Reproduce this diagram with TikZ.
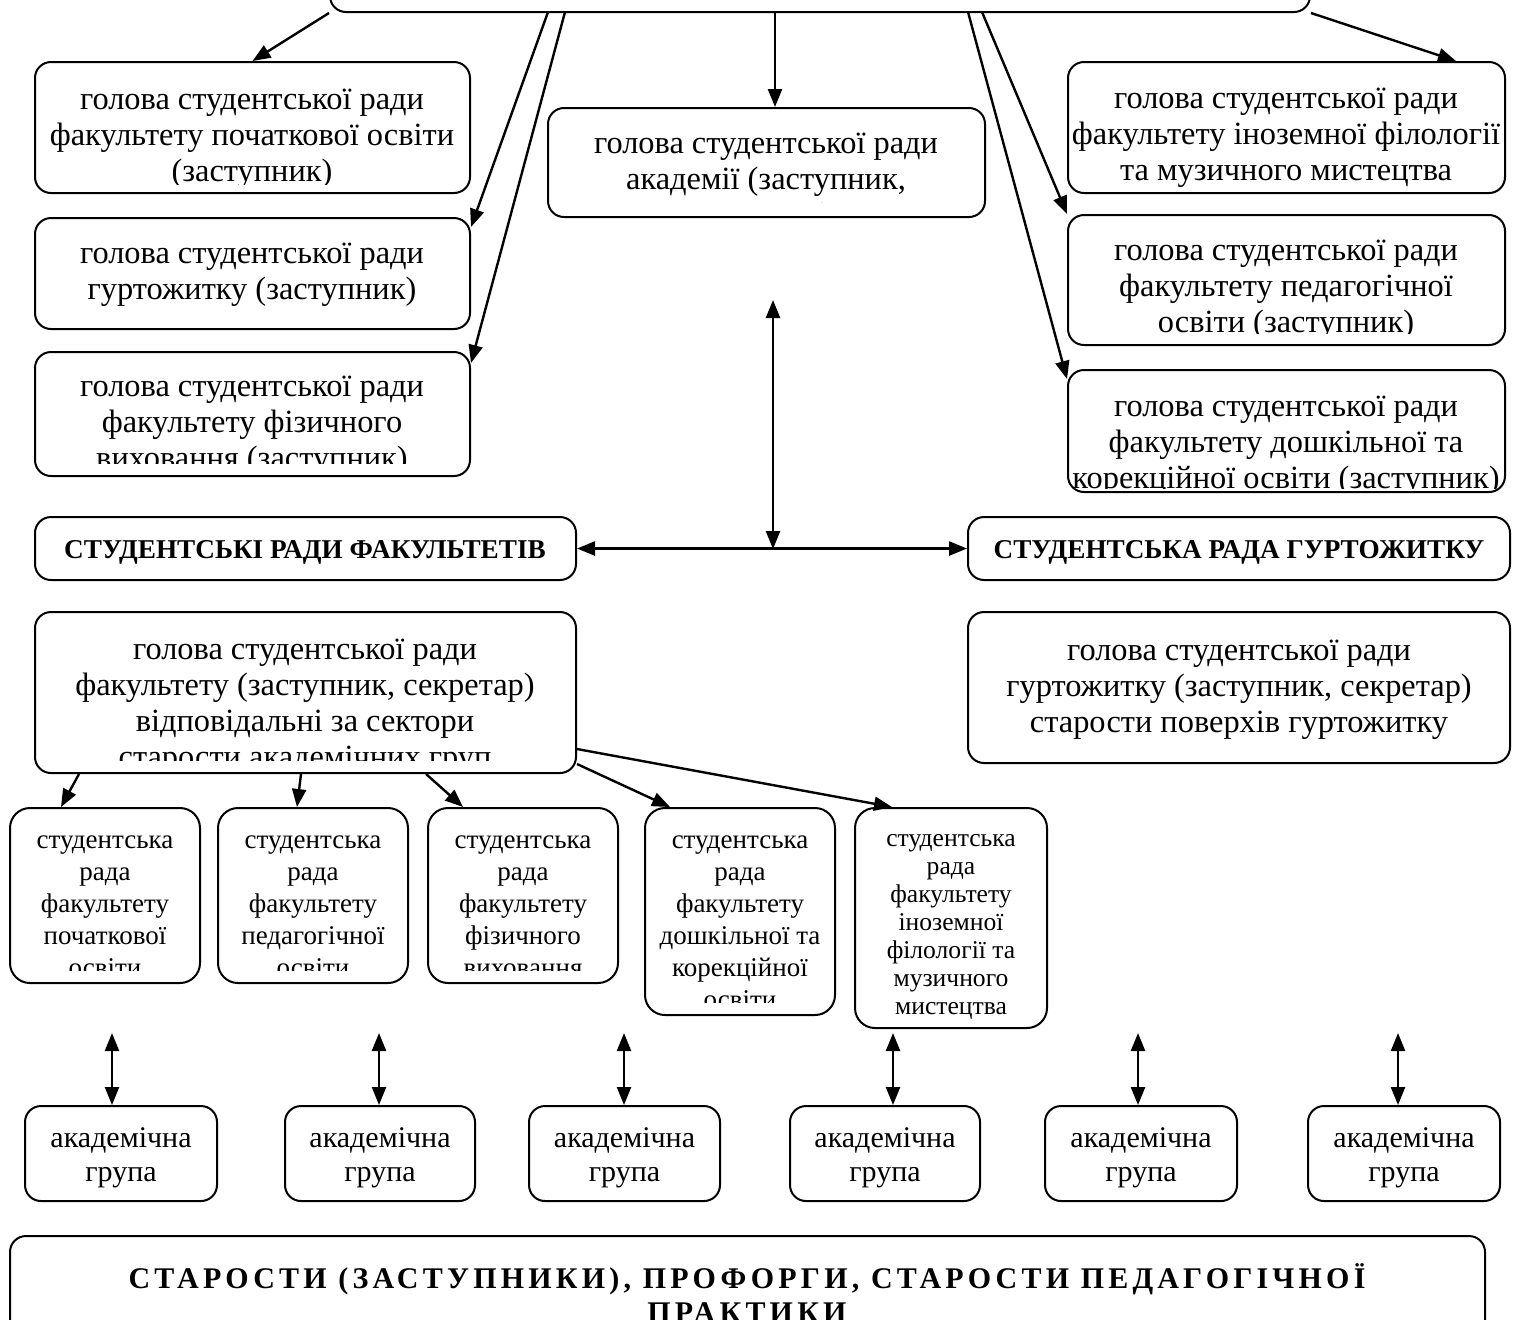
\documentclass[tikz,border=0pt]{standalone}
\usepackage{fontspec}
\setmainfont{Liberation Serif}
\usetikzlibrary{arrows.meta,fit}

\tikzset{
  box/.style={draw, line width=1pt, rounded corners=8pt, inner sep=0pt},
  txt/.style={align=center, inner sep=0pt, font=\fontsize{16.2}{18}\selectfont},
  smalltxt/.style={align=center, inner sep=0pt, font=\fontsize{13.5}{16}\selectfont},
  tinytxt/.style={align=center, inner sep=0pt, font=\fontsize{12.8}{14}\selectfont},
  grptxt/.style={align=center, inner sep=0pt, font=\fontsize{15}{17}\selectfont},
  head/.style={inner sep=0pt, font=\bfseries\fontsize{13.6}{15}\selectfont},
  arr/.style={line width=1.2pt, -{Triangle[length=9pt,width=7pt]}},
  darr/.style={line width=1.2pt, {Triangle[length=9pt,width=7pt]}-{Triangle[length=9pt,width=7pt]}},
}

\begin{document}
\begin{tikzpicture}[x=0.5pt, y=-0.5pt]

    \clip (0,0) rectangle (1518,1319);

    % top
    \node[box, fit={(330,-40) (1310,12)}] (T) {};

    % left column
    \node[box, fit={(35,62) (470,193)}] (L1) {};
    \begin{scope}
        \clip (35,62) rectangle (470,184);
        \node[txt] (L1t) at (252,139) {голова студентської ради\\факультету початкової освіти\\(заступник)};
    \end{scope}
    \node[box, fit={(35,218) (470,329)}] (L2) {};
    \node[txt] (L2t) at (252,275) {голова студентської ради\\гуртожитку (заступник)};
    \node[box, fit={(35,352) (470,476)}] (L3) {};
    \begin{scope}
        \clip (35,352) rectangle (470,463);
        \node[txt] (L3t) at (252,426) {голова студентської ради\\факультету фізичного\\виховання (заступник)};
    \end{scope}

    % centre
    \node[box, fit={(548,108) (985,217)}] (C) {};
    \begin{scope}
        \clip (548,108) rectangle (985,202);
        \node[txt] (Ct) at (766,183) {голова студентської ради\\академії (заступник,\\секретар)};
    \end{scope}

    % right column
    \node[box, fit={(1068,62) (1505,193)}] (R1) {};
    \node[txt] (R1t) at (1286,138) {голова студентської ради\\факультету іноземної філології\\та музичного мистецтва};
    \node[box, fit={(1068,215) (1505,345)}] (R2) {};
    \begin{scope}
        \clip (1068,215) rectangle (1505,333);
        \node[txt] (R2t) at (1286,290) {голова студентської ради\\факультету педагогічної\\освіти (заступник)};
    \end{scope}
    \node[box, fit={(1068,370) (1505,492)}] (R3) {};
    \begin{scope}
        \clip (1068,370) rectangle (1505,488);
        \node[txt] (R3t) at (1286,446) {голова студентської ради\\факультету дошкільної та\\корекційної освіти (заступник)};
    \end{scope}

    % councils
    \node[box, fit={(35,517) (576,580)}] (SRF) {};
    \node[head] (SRFt) at (305,552) {СТУДЕНТСЬКІ РАДИ ФАКУЛЬТЕТІВ};
    \node[box, fit={(968,517) (1510,580)}] (SRG) {};
    \node[head] (SRGt) at (1239,552) {СТУДЕНТСЬКА РАДА ГУРТОЖИТКУ};

    \node[box, fit={(35,612) (576,773)}] (FB) {};
    \begin{scope}
        \clip (35,612) rectangle (576,760);
        \node[txt] (FBt) at (305,707) {голова студентської ради\\факультету (заступник, секретар)\\відповідальні за сектори\\старости академічних груп};
    \end{scope}
    \node[box, fit={(968,612) (1510,763)}] (GB) {};
    \node[txt] (GBt) at (1239,690) {голова студентської ради\\гуртожитку (заступник, секретар)\\старости поверхів гуртожитку};

    % faculty councils
    \node[box, rounded corners=10pt, fit={(10,808) (200,983)}] (S1) {};
    \node[box, rounded corners=10pt, fit={(218,808) (408,983)}] (S2) {};
    \node[box, rounded corners=10pt, fit={(428,808) (618,983)}] (S3) {};
    \node[box, rounded corners=10pt, fit={(645,808) (835,1015)}] (S4) {};
    \node[box, rounded corners=10pt, fit={(855,808) (1047,1028)}] (S5) {};
    \begin{scope}
        \clip (10,808) rectangle (618,970);
        \node[smalltxt] (S1t) at (105,906) {студентська\\рада\\факультету\\початкової\\освіти};
        \node[smalltxt] (S2t) at (313,906) {студентська\\рада\\факультету\\педагогічної\\освіти};
        \node[smalltxt] (S3t) at (523,906) {студентська\\рада\\факультету\\фізичного\\виховання};
    \end{scope}
    \begin{scope}
        \clip (645,808) rectangle (835,1002);
        \node[smalltxt] (S4t) at (740,922) {студентська\\рада\\факультету\\дошкільної та\\корекційної\\освіти};
    \end{scope}
    \node[tinytxt] (S5t) at (951,927) {студентська\\рада\\факультету\\іноземної\\філології та\\музичного\\мистецтва};

    % groups
    \node[box, fit={(25,1106) (217,1201)}] (A1) {};
    \node[box, fit={(285,1106) (475,1201)}] (A2) {};
    \node[box, fit={(529,1106) (720,1201)}] (A3) {};
    \node[box, fit={(790,1106) (980,1201)}] (A4) {};
    \node[box, fit={(1045,1106) (1237,1201)}] (A5) {};
    \node[box, fit={(1308,1106) (1500,1201)}] (A6) {};
    \node[grptxt] (A1t) at ([yshift=-2pt]A1) {академічна\\група};
    \node[grptxt] (A2t) at ([yshift=-2pt]A2) {академічна\\група};
    \node[grptxt] (A3t) at ([yshift=-2pt]A3) {академічна\\група};
    \node[grptxt] (A4t) at ([yshift=-2pt]A4) {академічна\\група};
    \node[grptxt] (A5t) at ([yshift=-2pt]A5) {академічна\\група};
    \node[grptxt] (A6t) at ([yshift=-2pt]A6) {академічна\\група};

    % bottom
    \node[box, fit={(10,1236) (1485,1360)}] (B) {};
    \node[align=center, inner sep=0pt, font=\bfseries\fontsize{15}{17}\selectfont\addfontfeatures{LetterSpace=14}] (Bt) at (747,1293) {СТАРОСТИ (ЗАСТУПНИКИ), ПРОФОРГИ, СТАРОСТИ ПЕДАГОГІЧНОЇ\\ПРАКТИКИ};

    % arrows from the top
    \coordinate (t2) at (548,12);
    \coordinate (t3) at (565,12);
    \coordinate (t4) at (775,12);
    \coordinate (t5) at (968,12);
    \coordinate (t6) at (982,12);
    \draw[arr] (T.south west) -- (L1.north);
    \draw[arr] (t2) -- ([yshift=-5pt]L2.north east);
    \draw[arr] (t3) -- ([yshift=-6pt]L3.north east);
    \draw[arr] (t4) -- (t4 |- C.north);
    \draw[arr] (t5) -- ([yshift=-5pt]R3.north west);
    \draw[arr] (t6) -- (R2.north west);
    \draw[arr] (T.south east) -- ([xshift=-25pt]R1.north east);

    % middle
    \coordinate (v1) at (773,300);
    \coordinate (v2) at (773,549);
    \draw[darr] (SRF.east) -- (SRG.west);
    \draw[darr] (v1) -- (v2);

    % faculty box to councils
    \draw[arr] ([xshift=22.5pt]FB.south west) -- ([xshift=26pt]S1.north west);
    \draw[arr] ([xshift=133.5pt]FB.south west) -- ([xshift=40pt]S2.north west);
    \draw[arr] ([xshift=196pt]FB.south west) -- ([xshift=18pt]S3.north west);
    \draw[arr] ([yshift=5pt]FB.south east) -- ([xshift=13pt]S4.north west);
    \draw[arr] ([yshift=12.5pt]FB.south east) -- ([xshift=19pt]S5.north west);

    % groups
    \coordinate (u1) at (112,1033);
    \coordinate (u2) at (379,1033);
    \coordinate (u3) at (624,1033);
    \coordinate (u4) at (893,1033);
    \coordinate (u5) at (1138,1033);
    \coordinate (u6) at (1398,1033);
    \draw[darr] (u1) -- (u1 |- A1.north);
    \draw[darr] (u2) -- (u2 |- A2.north);
    \draw[darr] (u3) -- (u3 |- A3.north);
    \draw[darr] (u4) -- (u4 |- A4.north);
    \draw[darr] (u5) -- (u5 |- A5.north);
    \draw[darr] (u6) -- (u6 |- A6.north);

\end{tikzpicture}
\end{document}
